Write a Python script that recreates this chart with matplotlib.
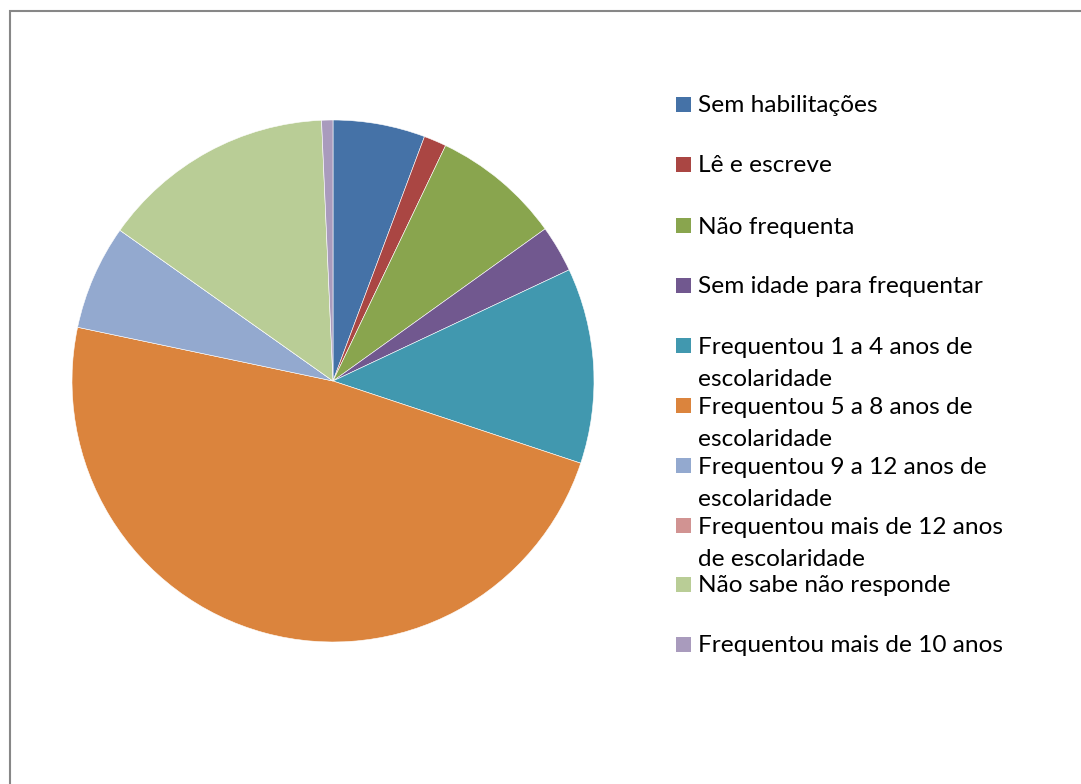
import matplotlib.pyplot as plt
from matplotlib.patches import Rectangle

labels = [
    "Sem habilitações",
    "Lê e escreve",
    "Não frequenta",
    "Sem idade para frequentar",
    "Frequentou 1 a 4 anos de\nescolaridade",
    "Frequentou 5 a 8 anos de\nescolaridade",
    "Frequentou 9 a 12 anos de\nescolaridade",
    "Frequentou mais de 12 anos\nde escolaridade",
    "Não sabe não responde",
    "Frequentou mais de 10 anos",
]
values = [5.7, 1.4, 8.0, 2.9, 12.1, 48.2, 6.5, 0.0, 14.5, 0.7]
colors = ["#4572A7", "#AA4643", "#89A54E", "#71588F", "#4198AF",
          "#DB843D", "#93A9CF", "#D19392", "#B9CD96", "#A99BBD"]

W, H = 1081, 784
fig = plt.figure(figsize=(W / 100, H / 100), dpi=100)
fig.patch.set_facecolor("white")

# chart border (runs off the right and bottom edges)
fig.patches.append(Rectangle((9.5 / W, -0.1), 1.2, (H - 11.5) / H + 0.1,
                             transform=fig.transFigure, fill=False,
                             edgecolor="#878787", linewidth=1.5))

cx, cy, r = 333, 381, 261
ax = fig.add_axes([(cx - r) / W, (H - cy - r) / H, 2 * r / W, 2 * r / H])
ax.pie(values, colors=colors, startangle=90, counterclock=False, radius=1,
       wedgeprops=dict(edgecolor="white", linewidth=0.4))
ax.set_xlim(-1, 1)
ax.set_ylim(-1, 1)
ax.set_aspect("equal")
ax.axis("off")

# legend, drawn by hand to keep Excel's uneven row spacing
row_y = [104, 164, 225, 285, 345, 405, 465, 525, 584, 644]
for lab, col, y in zip(labels, colors, row_y):
    fig.patches.append(Rectangle((676 / W, (H - y - 7.5) / H), 15 / W, 15 / H,
                                 transform=fig.transFigure, facecolor=col,
                                 edgecolor="none"))
    for i, line in enumerate(lab.split("\n")):
        fig.text(698 / W, (H - y - 32 * i) / H, line, fontsize=17.6,
                 family="Lato", va="center_baseline", ha="left",
                 color="black", transform=fig.transFigure)

fig.savefig("out.png", dpi=100)
